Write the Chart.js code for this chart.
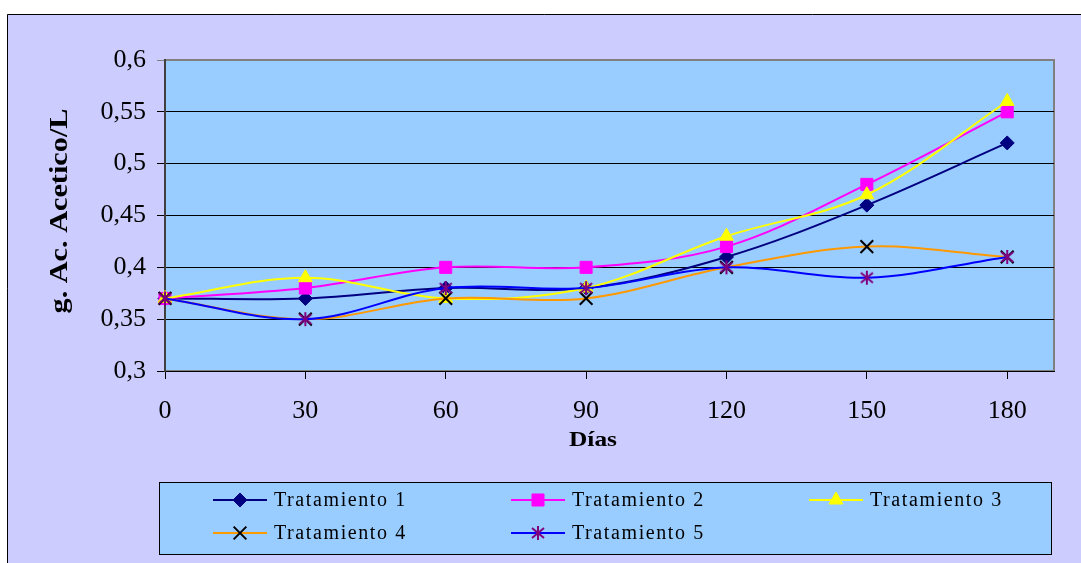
<!DOCTYPE html>
<html>
<head>
<meta charset="utf-8">
<title>Ácido acético por tratamiento</title>
<script src="https://cdn.jsdelivr.net/npm/chart.js@4/dist/chart.umd.min.js"></script>
<style>
  html, body { margin: 0; padding: 0; background: #ffffff; }
  canvas { display: block; }
</style>
</head>
<body>
<canvas id="chart" width="1081" height="563"></canvas>
<script>
// Sampling days (x axis) and tick labels
const dias = [0, 30, 60, 90, 120, 150, 180];
const xTickValues = [0, 30, 60, 90, 120, 150, 180];
const yTickValues = [0.3, 0.35, 0.4, 0.45, 0.5, 0.55, 0.6];

// g of acetic acid per litre, one array per treatment
const tratamiento1 = [0.37, 0.37, 0.38, 0.38, 0.41, 0.46, 0.52];
const tratamiento2 = [0.37, 0.38, 0.40, 0.40, 0.42, 0.48, 0.55];
const tratamiento3 = [0.37, 0.39, 0.37, 0.38, 0.43, 0.47, 0.56];
const tratamiento4 = [0.37, 0.35, 0.37, 0.37, 0.40, 0.42, 0.41];
const tratamiento5 = [0.37, 0.35, 0.38, 0.38, 0.40, 0.39, 0.41];

const seriesNames = ['Tratamiento 1', 'Tratamiento 2', 'Tratamiento 3', 'Tratamiento 4', 'Tratamiento 5'];

const SERIF = '"Liberation Serif", "Times New Roman", serif';

// Asterisk marker: vertical stroke plus an X
function makeAsterisk(color) {
  const c = document.createElement('canvas');
  c.width = 16; c.height = 16;
  const g = c.getContext('2d');
  g.strokeStyle = color;
  g.lineWidth = 2;
  g.beginPath();
  g.moveTo(8, 1); g.lineTo(8, 15);
  g.moveTo(2, 3); g.lineTo(14, 13);
  g.moveTo(14, 3); g.lineTo(2, 13);
  g.stroke();
  return c;
}
const asterisk = makeAsterisk('#800080');

const styles = [
  { line: '#000080', fill: '#000080', marker: 'rectRot', radius: 7, bw: 1 },
  { line: '#FF00FF', fill: '#FF00FF', marker: 'rect', radius: 8.5, bw: 1 },
  { line: '#FFFF00', fill: '#FFFF00', marker: 'triangle', radius: 8, bw: 1 },
  { line: '#FF9900', fill: '#000000', stroke: '#000000', marker: 'crossRot', radius: 9, bw: 2 },
  { line: '#0000FF', fill: '#800080', marker: asterisk, radius: 8, bw: 1 }
];

const allSeries = [tratamiento1, tratamiento2, tratamiento3, tratamiento4, tratamiento5];

const datasets = allSeries.map((vals, i) => {
  const s = styles[i];
  return {
    label: seriesNames[i],
    data: dias.map((d, k) => ({ x: d, y: vals[k] })),
    borderColor: s.line,
    borderWidth: 2,
    tension: 0.35,
    pointStyle: s.marker,
    pointRadius: s.radius,
    pointHoverRadius: s.radius,
    pointBackgroundColor: s.fill,
    pointBorderColor: s.stroke || s.fill,
    pointBorderWidth: s.bw,
    clip: false,
    order: 5 - i
  };
});

const PLOT_BG = '#99CCFF';
const PAGE_BG = '#CCCCFF';

const decor = {
  id: 'decor',
  beforeDraw(chart) {
    const ctx = chart.ctx;
    const a = chart.chartArea;
    ctx.save();
    // outer frame
    ctx.fillStyle = PAGE_BG;
    ctx.fillRect(7, 14, chart.width - 7, chart.height - 14);
    ctx.strokeStyle = '#000000';
    ctx.lineWidth = 1;
    ctx.beginPath();
    ctx.moveTo(7.5, chart.height);
    ctx.lineTo(7.5, 14.5);
    ctx.lineTo(chart.width, 14.5);
    ctx.stroke();
    // plot area
    ctx.fillStyle = PLOT_BG;
    ctx.fillRect(a.left, a.top, a.right - a.left, a.bottom - a.top);
    ctx.strokeStyle = '#808080';
    ctx.lineWidth = 2;
    ctx.strokeRect(a.left, a.top, a.right - a.left, a.bottom - a.top);
    ctx.restore();
  },
  afterDraw(chart) {
    const ctx = chart.ctx;
    ctx.save();
    ctx.fillStyle = '#000000';

    // y axis title
    ctx.save();
    ctx.translate(60, 211);
    ctx.rotate(-Math.PI / 2);
    ctx.font = 'bold 26px ' + SERIF;
    ctx.textAlign = 'center';
    ctx.textBaseline = 'middle';
    const yt = 'g. Ac. Acetico/L';
    const yw = ctx.measureText(yt).width;
    ctx.scale(205 / yw, 1);
    ctx.fillText(yt, 0, 0);
    ctx.restore();

    // x axis title
    ctx.save();
    ctx.translate(593, 441);
    ctx.font = 'bold 21px ' + SERIF;
    ctx.textAlign = 'center';
    ctx.textBaseline = 'middle';
    const xt = 'Días';
    const xw = ctx.measureText(xt).width;
    ctx.scale(48 / xw, 1);
    ctx.fillText(xt, 0, 0);
    ctx.restore();

    // legend box
    ctx.fillStyle = PLOT_BG;
    ctx.fillRect(159.5, 482.5, 892, 72);
    ctx.strokeStyle = '#000000';
    ctx.lineWidth = 1;
    ctx.strokeRect(159.5, 482.5, 892, 72);

    const colX = [213, 511, 809];
    const rowY = [500, 533];
    ctx.font = '20px ' + SERIF;
    ctx.textBaseline = 'middle';
    ctx.textAlign = 'left';
    datasets.forEach((ds, i) => {
      const s = styles[i];
      const x0 = colX[i % 3];
      const y0 = rowY[Math.floor(i / 3)];
      ctx.strokeStyle = s.line;
      ctx.lineWidth = 2;
      ctx.beginPath();
      ctx.moveTo(x0, y0);
      ctx.lineTo(x0 + 54, y0);
      ctx.stroke();
      ctx.fillStyle = s.fill;
      ctx.strokeStyle = s.stroke || s.fill;
      ctx.lineWidth = s.bw;
      if (Chart.helpers && Chart.helpers.drawPoint) {
        Chart.helpers.drawPoint(ctx, { pointStyle: s.marker, radius: s.radius, rotation: 0, borderWidth: s.bw }, x0 + 27, y0);
      }
      ctx.fillStyle = '#000000';
      if ('letterSpacing' in ctx) ctx.letterSpacing = '1.6px';
      ctx.fillText(ds.label, x0 + 61, y0 + 1);
      if ('letterSpacing' in ctx) ctx.letterSpacing = '0px';
    });
    ctx.restore();
  }
};

new Chart(document.getElementById('chart'), {
  type: 'line',
  data: { datasets },
  plugins: [decor],
  options: {
    responsive: false,
    devicePixelRatio: 1,
    animation: false,
    events: [],
    layout: { padding: { top: 60, right: 27, left: 0, bottom: 0 } },
    plugins: {
      legend: { display: false },
      tooltip: { enabled: false },
      title: { display: false }
    },
    scales: {
      x: {
        type: 'linear',
        min: 0,
        max: 190,
        afterBuildTicks(scale) { scale.ticks = xTickValues.map(v => ({ value: v })); },
        afterFit(scale) { scale.height = 192; },
        grid: {
          drawOnChartArea: false,
          drawTicks: true,
          tickLength: 8,
          color: '#000000',
          lineWidth: 1
        },
        border: { display: true, color: '#000000', width: 1 },
        ticks: {
          padding: 17,
          maxRotation: 0,
          autoSkip: false,
          color: '#000000',
          font: { family: SERIF, size: 26 },
          callback: v => String(v)
        }
      },
      y: {
        type: 'linear',
        min: 0.3,
        max: 0.6,
        afterBuildTicks(scale) { scale.ticks = yTickValues.map(v => ({ value: v })); },
        afterFit(scale) { scale.width = 165; },
        grid: {
          drawOnChartArea: true,
          drawTicks: true,
          tickLength: 8,
          color: ctx => (ctx.tick && ctx.tick.value === 0.6 ? '#808080' : '#000000'),
          lineWidth: 1
        },
        border: { display: true, color: '#404040', width: 2 },
        ticks: {
          padding: 11,
          color: '#000000',
          font: { family: SERIF, size: 26 },
          callback: v => String(v).replace('.', ',')
        }
      }
    }
  }
});
</script>
</body>
</html>
